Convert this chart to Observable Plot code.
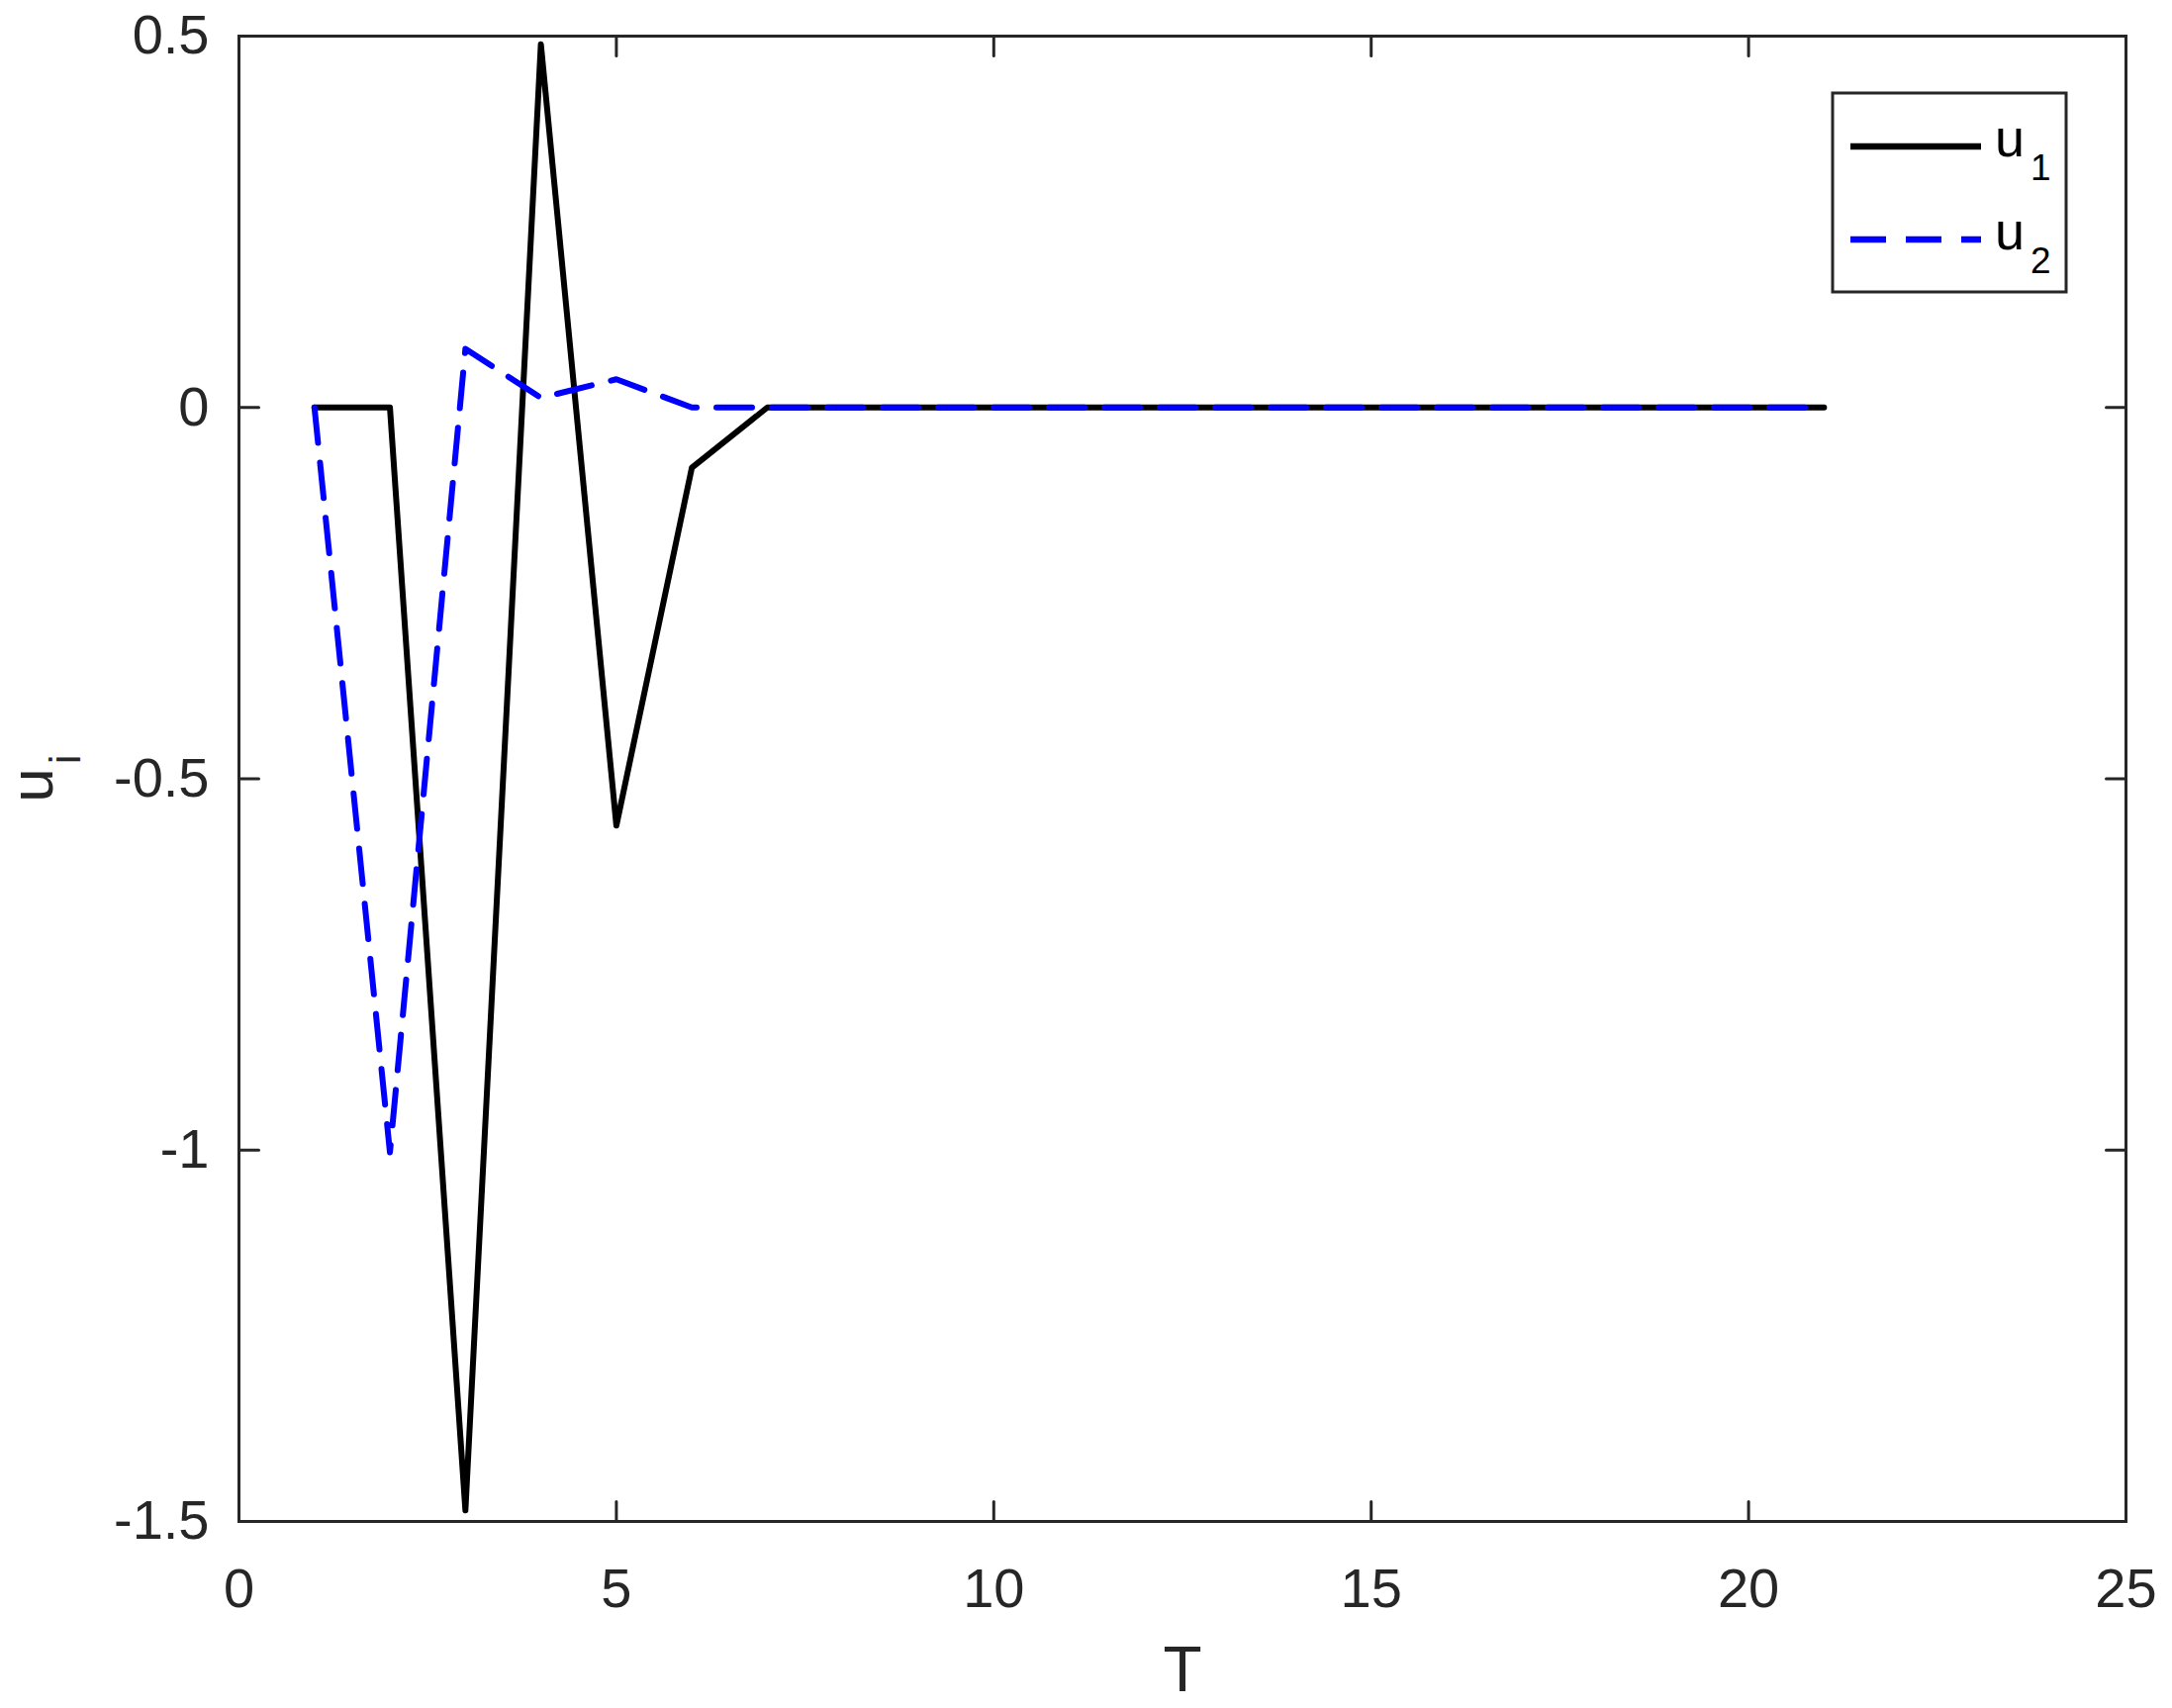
<!DOCTYPE html>
<html>
<head>
<meta charset="utf-8">
<script src="https://cdn.jsdelivr.net/npm/d3@7"></script>
<script src="https://cdn.jsdelivr.net/npm/@observablehq/plot@0.6"></script>
<style>
  html, body { margin: 0; padding: 0; background: #fff; }
  #chart { width: 2195px; height: 1726px; }
</style>
</head>
<body>
<div id="chart"></div>
<script>
// ---- data ----
const T  = [1, 2, 3, 4, 5, 6, 7, 8, 9, 10, 11, 12, 13, 14, 15, 16, 17, 18, 19, 20, 21];
const u1 = [0, 0, -1.485, 0.489, -0.563, -0.081, 0, 0, 0, 0, 0, 0, 0, 0, 0, 0, 0, 0, 0, 0, 0];
const u2 = [0, -1.003, 0.079, 0.013, 0.038, 0, 0, 0, 0, 0, 0, 0, 0, 0, 0, 0, 0, 0, 0, 0, 0];
const xTicks = [0, 5, 10, 15, 20, 25];
const yTicks = [-1.5, -1, -0.5, 0, 0.5];
const seriesNames = ["u", "u"];
const seriesSubs = ["1", "2"];
const xLabel = "T";
const yLabelMain = "u";
const yLabelSub = "i";

const d1 = T.map((t, i) => ({T: t, u: u1[i]}));
const d2 = T.map((t, i) => ({T: t, u: u2[i]}));

const INK = "#262626";
const FONT = "'Liberation Sans', Arial, Helvetica, sans-serif";
const LW = 6;
const DASH = "36,20";
const tickShape = {draw(ctx, l) { ctx.moveTo(0, 0); ctx.lineTo(0, -l); }};
const tickOpts = {length: 20, anchor: "start", shape: tickShape, stroke: INK, strokeWidth: 3};

const plot = Plot.plot({
  width: 2195,
  height: 1726,
  marginLeft: 241,
  marginRight: 47,
  marginTop: 36,
  marginBottom: 189,
  style: {fontFamily: FONT, background: "#fff", color: INK, overflow: "visible"},
  x: {domain: [0, 25], label: null},
  y: {domain: [-1.5, 0.5], label: null},
  marks: [
    Plot.axisX(xTicks, {tickSize: 0, tickPadding: 47, fontSize: 56, tickFormat: d => String(d), fill: INK, label: null}),
    Plot.axisY(yTicks, {tickSize: 0, tickPadding: 30, fontSize: 56, tickFormat: d => String(d), fill: INK, label: null}),
    Plot.line(d1, {x: "T", y: "u", stroke: "#000000", strokeWidth: LW, strokeLinejoin: "round"}),
    Plot.line(d2, {x: "T", y: "u", stroke: "#0000ff", strokeWidth: LW, strokeDasharray: DASH, strokeLinejoin: "round"}),
    Plot.vector(xTicks, {x: d => d, frameAnchor: "bottom", rotate: 0, ...tickOpts}),
    Plot.vector(xTicks, {x: d => d, frameAnchor: "top", rotate: 180, ...tickOpts}),
    Plot.vector(yTicks, {y: d => d, frameAnchor: "left", rotate: 90, ...tickOpts}),
    Plot.vector(yTicks, {y: d => d, frameAnchor: "right", rotate: -90, ...tickOpts}),
    Plot.frame({stroke: INK, strokeWidth: 3}),
    Plot.text([xLabel], {frameAnchor: "bottom", dy: 151, fontSize: 64, fill: INK, lineAnchor: "middle"})
  ]
});

document.getElementById("chart").appendChild(plot);

// ---- y label with subscript and legend (overlay in the same SVG) ----
const svg = d3.select(plot);
const yl = svg.append("text")
  .attr("transform", "translate(53,786.5) rotate(-90)")
  .attr("text-anchor", "middle")
  .attr("font-family", FONT)
  .attr("font-size", 62)
  .attr("fill", INK);
yl.append("tspan").text(yLabelMain);
yl.append("tspan").attr("font-size", 44).attr("dx", 4).attr("dy", 28).text(yLabelSub);

const lg = svg.append("g");
lg.append("rect").attr("x", 1852).attr("y", 94).attr("width", 236).attr("height", 201)
  .attr("fill", "#fff").attr("stroke", INK).attr("stroke-width", 3);
const legStyles = [
  {stroke: "#000000", dash: null},
  {stroke: "#0000ff", dash: DASH}
];
seriesNames.forEach((name, i) => {
  const cy = 148 + i * 94;
  lg.append("line").attr("x1", 1870).attr("x2", 2002).attr("y1", cy).attr("y2", cy)
    .attr("stroke", legStyles[i].stroke).attr("stroke-width", 6.5)
    .attr("stroke-dasharray", legStyles[i].dash);
  const t = lg.append("text").attr("x", 2016).attr("y", cy + 10)
    .attr("text-anchor", "start")
    .attr("font-family", FONT).attr("font-size", 54).attr("fill", "#000");
  t.append("tspan").text(name);
  t.append("tspan").attr("font-size", 37).attr("dx", 6).attr("dy", 24).text(seriesSubs[i]);
});
</script>
</body>
</html>
